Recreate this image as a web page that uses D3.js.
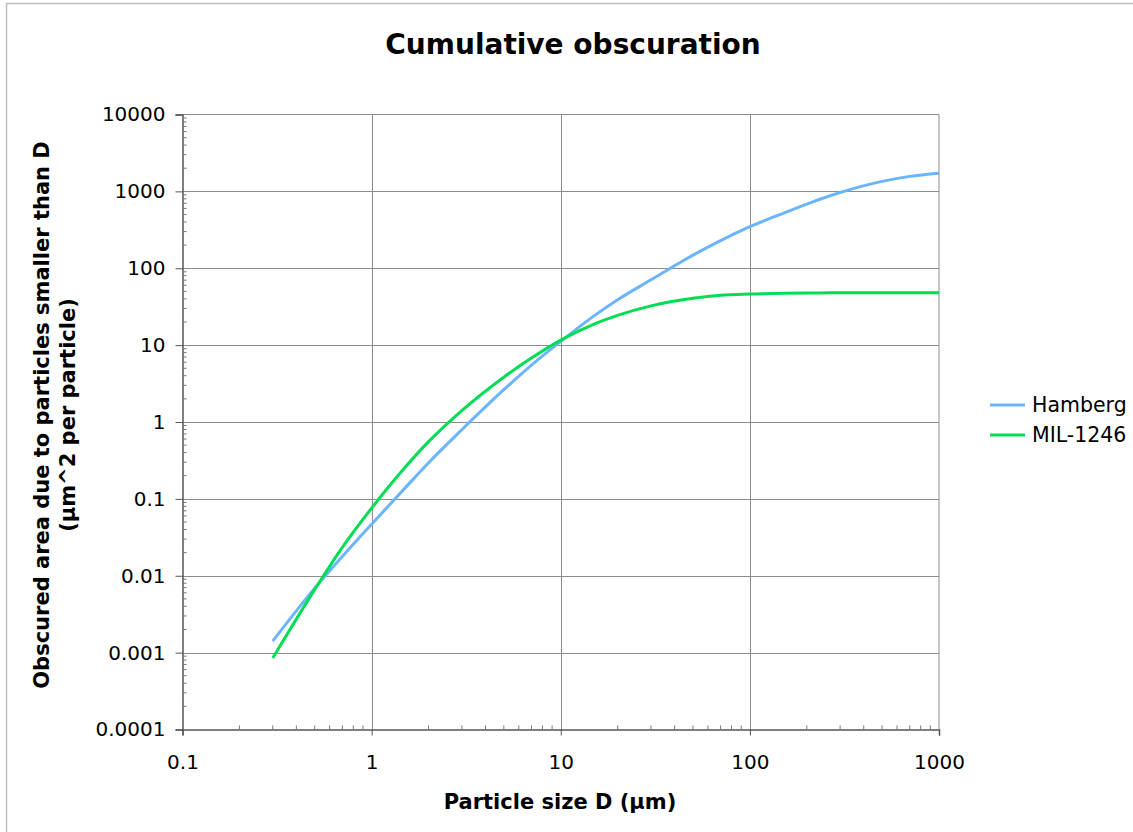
<!DOCTYPE html>
<html>
<head>
<meta charset="utf-8">
<script src="https://cdn.jsdelivr.net/npm/d3@7"></script>
<style>
  body { margin: 0; background: #fff; }
  svg text { font-family: "DejaVu Sans", Verdana, sans-serif; fill: #000; }
</style>
</head>
<body>
<svg id="chart" width="1133" height="832"></svg>
<script>
// particle sizes (µm)
const sizes = [0.3, 0.5, 0.7, 1, 1.5, 2, 3, 5, 7, 10, 15, 20, 30, 50, 70, 100, 150, 200, 300, 500, 700, 1000];
// cumulative obscured area, µm^2 per particle
const hamberg = [0.00141, 0.0069, 0.0178, 0.0468, 0.138, 0.295, 0.794, 2.63, 5.5, 11.2, 24.0, 38.9, 70.8, 148, 229, 347, 519, 684, 966, 1349, 1567, 1722];
const mil1246 = [0.00085, 0.0066, 0.0234, 0.0759, 0.256, 0.556, 1.41, 3.83, 6.78, 11.6, 18.8, 24.4, 32.4, 40.7, 44.6, 46.2, 47.2, 47.6, 48.0, 48.0, 48.0, 48.0];
const seriesNames = ["Hamberg", "MIL-1246"];
const seriesColors = ["#6bb5fc", "#00dd55"];
const xTicks = [0.1, 1, 10, 100, 1000];
const yTicks = [0.0001, 0.001, 0.01, 0.1, 1, 10, 100, 1000, 10000];

const margin = {top: 114.5, left: 182.5, right: 939, bottom: 729.5};

const svg = d3.select("#chart");

// outer frame (only top/left are in view)
svg.append("rect")
  .attr("x", 6.5).attr("y", 3.5)
  .attr("width", 1140).attr("height", 840)
  .attr("fill", "none").attr("stroke", "#bdbdbd").attr("stroke-width", 1.5);

const x = d3.scaleLog().domain([0.1, 1000]).range([margin.left, margin.right]);
const y = d3.scaleLog().domain([0.0001, 10000]).range([margin.bottom, margin.top]);

// minor tick positions
function minors(lo, hi){
  let out = [];
  for(let p = Math.log10(lo); p < Math.log10(hi); p++){
    for(let k = 2; k <= 9; k++) out.push(k * Math.pow(10, p));
  }
  return out;
}

// grid
const grid = svg.append("g").attr("class", "grid");
grid.selectAll("line.gx").data(xTicks.slice(1, -1)).enter().append("line")
  .attr("x1", d => Math.round(x(d)) + 0.5).attr("x2", d => Math.round(x(d)) + 0.5)
  .attr("y1", margin.top).attr("y2", margin.bottom)
  .attr("stroke", "#8c8c8c").attr("stroke-width", 1);
grid.selectAll("line.gy").data(yTicks.slice(1, -1)).enter().append("line")
  .attr("y1", d => Math.round(y(d)) + 0.5).attr("y2", d => Math.round(y(d)) + 0.5)
  .attr("x1", margin.left).attr("x2", margin.right)
  .attr("stroke", "#8c8c8c").attr("stroke-width", 1);

// plot frame: top + right
svg.append("path")
  .attr("d", `M${margin.left},${margin.top}H${margin.right}V${margin.bottom}`)
  .attr("fill", "none").attr("stroke", "#8c8c8c").attr("stroke-width", 1);

// x axis
const xAxis = svg.append("g").attr("transform", `translate(0,${margin.bottom})`);
xAxis.call(d3.axisBottom(x).tickValues(xTicks).tickFormat(d3.format("~g")).tickSize(6).tickPadding(19));
xAxis.select(".domain").attr("stroke", "#555").attr("stroke-width", 1.5);
xAxis.selectAll(".tick line").attr("stroke", "#555");
xAxis.selectAll(".tick text").attr("font-size", 20).attr("font-family", "DejaVu Sans, Verdana, sans-serif");
xAxis.selectAll("line.minor").data(minors(0.1, 1000)).enter().append("line")
  .attr("class", "minor")
  .attr("x1", d => x(d)).attr("x2", d => x(d))
  .attr("y1", 0).attr("y2", -4)
  .attr("stroke", "#777");

// y axis
const yAxis = svg.append("g").attr("transform", `translate(${margin.left},0)`);
yAxis.call(d3.axisLeft(y).tickValues(yTicks).tickFormat(d => d3.format("~f")(d)).tickSize(7).tickPadding(10));
yAxis.select(".domain").attr("stroke", "#555").attr("stroke-width", 1.5);
yAxis.selectAll(".tick line").attr("stroke", "#555");
yAxis.selectAll(".tick text").attr("font-size", 20).attr("font-family", "DejaVu Sans, Verdana, sans-serif");
yAxis.selectAll("line.minor").data(minors(0.0001, 10000)).enter().append("line")
  .attr("class", "minor")
  .attr("y1", d => y(d)).attr("y2", d => y(d))
  .attr("x1", 0).attr("x2", 4)
  .attr("stroke", "#777");

// series
const line = d3.line()
  .x(d => x(d[0])).y(d => y(d[1]))
  .curve(d3.curveMonotoneX);

[hamberg, mil1246].forEach(function(vals, i){
  svg.append("path")
    .datum(sizes.map((s, j) => [s, vals[j]]))
    .attr("d", line)
    .attr("fill", "none")
    .attr("stroke", seriesColors[i])
    .attr("stroke-width", 3);
});

// title
svg.append("text")
  .attr("x", 573).attr("y", 54)
  .attr("text-anchor", "middle")
  .attr("font-size", 28).attr("font-weight", "bold")
  .text("Cumulative obscuration");

// axis titles
svg.append("text")
  .attr("x", 560).attr("y", 809)
  .attr("text-anchor", "middle")
  .attr("font-size", 21).attr("font-weight", "bold")
  .text("Particle size D (µm)");

const yTitle = svg.append("text")
  .attr("transform", "translate(49,415) rotate(-90)")
  .attr("text-anchor", "middle")
  .attr("font-size", 21).attr("font-weight", "bold");
yTitle.append("tspan").attr("x", 0).attr("dy", 0).text("Obscured area due to particles smaller than D");
yTitle.append("tspan").attr("x", 0).attr("dy", 26).text("(µm^2 per particle)");

// legend
const legend = svg.append("g").attr("transform", "translate(990,405)");
const item = legend.selectAll("g").data(seriesNames).enter().append("g")
  .attr("transform", (d, i) => `translate(0,${i * 30})`);
item.append("line")
  .attr("x1", 0).attr("x2", 35).attr("y1", 0).attr("y2", 0)
  .attr("stroke", (d, i) => seriesColors[i]).attr("stroke-width", 3);
item.append("text")
  .attr("x", 42).attr("y", 7)
  .attr("font-size", 20.5)
  .text(d => d);
</script>
</body>
</html>
